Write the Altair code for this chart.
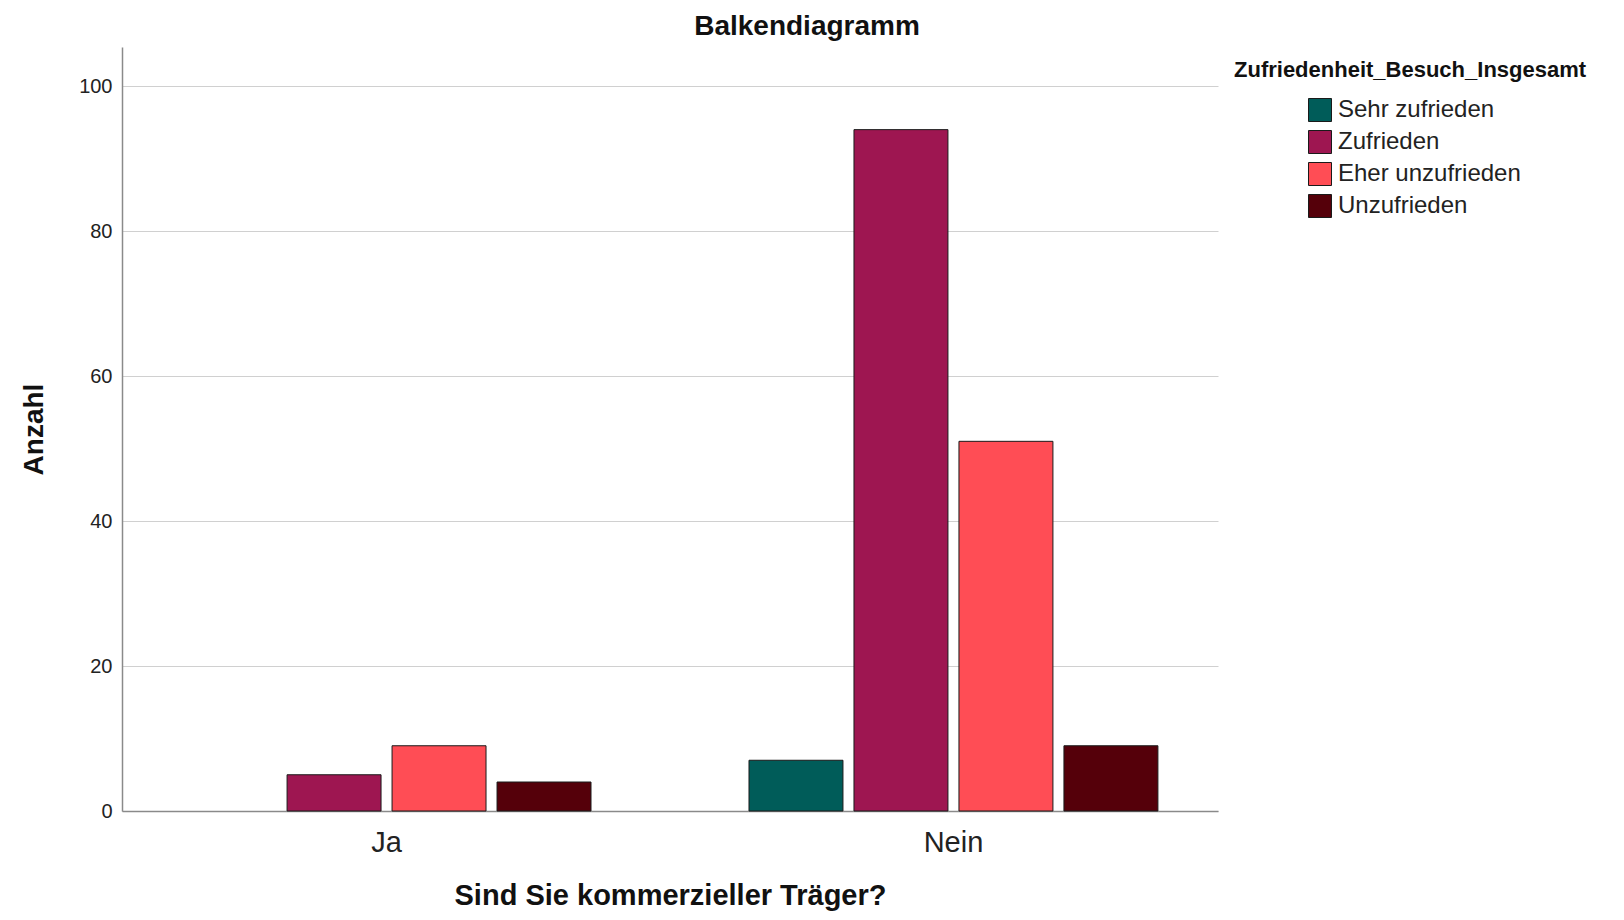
import altair as alt
import pandas as pd

# Data
traeger = ["Ja", "Ja", "Ja", "Nein", "Nein", "Nein", "Nein"]
zufriedenheit = ["Zufrieden", "Eher unzufrieden", "Unzufrieden",
                 "Sehr zufrieden", "Zufrieden", "Eher unzufrieden", "Unzufrieden"]
anzahl = [5, 9, 4, 7, 94, 51, 9]

kategorien = ["Sehr zufrieden", "Zufrieden", "Eher unzufrieden", "Unzufrieden"]
farben = ["#005C59", "#9E1651", "#FF4D55", "#55000A"]
y_ticks = [0, 20, 40, 60, 80, 100]

df = pd.DataFrame({"Traeger": traeger, "Zufriedenheit": zufriedenheit, "Anzahl": anzahl})

FONT = "Liberation Sans"

chart = alt.Chart(df).mark_bar(stroke="#1a1a1a", strokeWidth=1).encode(
    x=alt.X("Traeger:N",
            scale=alt.Scale(paddingInner=0.2787, paddingOuter=0.106),
            axis=alt.Axis(labelAngle=0, ticks=False, labelFontSize=29, labelFont=FONT,
                          labelColor="#222222", labelPadding=17,
                          domainColor="#8a8a8a", domainWidth=1.5, grid=False,
                          title="Sind Sie kommerzieller Träger?", titleFont=FONT,
                          titleFontSize=29, titleFontWeight="bold", titleColor="#111111",
                          titleX=548, titleY=84, titleBaseline="middle", titleAlign="center")),
    xOffset=alt.XOffset("Zufriedenheit:N",
                        scale=alt.Scale(domain=kategorien, paddingInner=0.105, paddingOuter=0)),
    y=alt.Y("Anzahl:Q",
            scale=alt.Scale(domain=[0, 105.4], nice=False, zero=True),
            axis=alt.Axis(values=y_ticks, ticks=False, labelPadding=10, labelFontSize=20,
                          labelFont=FONT, labelColor="#222222",
                          grid=True, gridColor="#d0d0d0", gridWidth=1,
                          domainColor="#8a8a8a", domainWidth=1.5,
                          title="Anzahl", titleFont=FONT, titleFontSize=28,
                          titleFontWeight="bold", titleColor="#111111",
                          titleX=-88, titleY=382, titleAngle=270,
                          titleAlign="center", titleBaseline="middle")),
    color=alt.Color("Zufriedenheit:N",
                    scale=alt.Scale(domain=kategorien, range=farben),
                    legend=alt.Legend(orient="none", legendX=1112, legendY=13,
                                      title="Zufriedenheit_Besuch_Insgesamt",
                                      titleFont=FONT, titleFontSize=22, titleFontWeight="bold",
                                      titleColor="#111111", titleLimit=600, titlePadding=16,
                                      symbolType="square", symbolSize=529,
                                      symbolStrokeColor="#1a1a1a", symbolStrokeWidth=1,
                                      symbolOffset=74, labelFont=FONT, labelFontSize=24,
                                      labelColor="#222222", labelOffset=6, labelLimit=400,
                                      rowPadding=4, padding=0)),
).properties(
    width=1096,
    height=764,
    title=alt.TitleParams("Balkendiagramm", font=FONT, fontSize=28, fontWeight="bold",
                          color="#111111", anchor="middle", dx=137, offset=6),
    autosize=alt.AutoSizeParams(type="none"),
    padding={"left": 114, "top": 39, "right": 392, "bottom": 101},
).configure_view(stroke=None)

chart.save("out.html", embed_options={"renderer": "svg", "actions": False})
